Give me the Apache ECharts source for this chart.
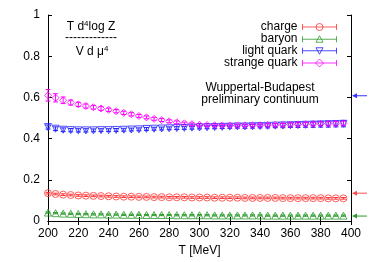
<!DOCTYPE html>
<html>
<head>
<meta charset="utf-8">
<script src="https://cdn.jsdelivr.net/npm/echarts@6/dist/echarts.min.js"></script>
<style>
  html, body { margin: 0; padding: 0; background: #fff; }
  #chart { width: 374px; height: 262px; }
</style>
</head>
<body>
<div id="chart"></div>
<script>
// temperature points (MeV)
const temps = [200, 205, 210, 215, 220, 225, 230, 235, 240, 245,
  250, 255, 260, 265, 270, 275, 280, 285, 290, 295,
  300, 305, 310, 315, 320, 325, 330, 335, 340, 345,
  350, 355, 360, 365, 370, 375, 380, 385, 390, 395]

const charge = [0.135, 0.131, 0.128, 0.126, 0.124, 0.123, 0.122, 0.121, 0.120, 0.119,
  0.118, 0.118, 0.117, 0.117, 0.116, 0.116, 0.115, 0.115, 0.115, 0.114,
  0.114, 0.114, 0.113, 0.113, 0.113, 0.113, 0.112, 0.112, 0.112, 0.112,
  0.112, 0.111, 0.111, 0.111, 0.111, 0.111, 0.111, 0.110, 0.110, 0.110]
const chargeErr = [0.004, 0.004, 0.004, 0.004, 0.004, 0.004, 0.004, 0.004, 0.004, 0.004,
  0.004, 0.004, 0.004, 0.004, 0.004, 0.004, 0.004, 0.004, 0.004, 0.004,
  0.004, 0.004, 0.004, 0.004, 0.004, 0.004, 0.004, 0.004, 0.004, 0.004,
  0.004, 0.004, 0.004, 0.004, 0.004, 0.004, 0.004, 0.004, 0.004, 0.004]

const baryon = [0.041, 0.038, 0.036, 0.035, 0.034, 0.033, 0.032, 0.032, 0.031, 0.031,
  0.030, 0.030, 0.030, 0.029, 0.029, 0.029, 0.029, 0.028, 0.028, 0.028,
  0.028, 0.028, 0.027, 0.027, 0.027, 0.027, 0.027, 0.027, 0.027, 0.026,
  0.026, 0.026, 0.026, 0.026, 0.026, 0.026, 0.026, 0.026, 0.026, 0.026]
const baryonErr = [0.003, 0.003, 0.003, 0.003, 0.003, 0.003, 0.003, 0.003, 0.003, 0.003,
  0.003, 0.003, 0.003, 0.003, 0.003, 0.003, 0.003, 0.003, 0.003, 0.003,
  0.003, 0.003, 0.003, 0.003, 0.003, 0.003, 0.003, 0.003, 0.003, 0.003,
  0.003, 0.003, 0.003, 0.003, 0.003, 0.003, 0.003, 0.003, 0.003, 0.003]

const light = [0.456, 0.448, 0.443, 0.441, 0.440, 0.440, 0.440, 0.441, 0.441, 0.442,
  0.443, 0.444, 0.445, 0.447, 0.448, 0.449, 0.450, 0.451, 0.452, 0.453,
  0.454, 0.455, 0.456, 0.457, 0.458, 0.459, 0.459, 0.460, 0.461, 0.462,
  0.463, 0.464, 0.465, 0.466, 0.467, 0.468, 0.469, 0.470, 0.471, 0.472]
const lightErr = [0.010, 0.009, 0.009, 0.008, 0.008, 0.008, 0.007, 0.007, 0.007, 0.007,
  0.007, 0.007, 0.007, 0.007, 0.007, 0.007, 0.007, 0.007, 0.007, 0.007,
  0.007, 0.007, 0.008, 0.008, 0.008, 0.008, 0.009, 0.009, 0.009, 0.010,
  0.010, 0.011, 0.011, 0.012, 0.012, 0.013, 0.013, 0.014, 0.014, 0.015]

const strange = [0.610, 0.598, 0.586, 0.575, 0.566, 0.558, 0.552, 0.546, 0.540, 0.533,
  0.525, 0.518, 0.510, 0.503, 0.496, 0.490, 0.484, 0.479, 0.474, 0.470,
  0.467, 0.466, 0.465, 0.464, 0.464, 0.464, 0.464, 0.465, 0.465, 0.466,
  0.466, 0.467, 0.468, 0.469, 0.470, 0.471, 0.472, 0.472, 0.473, 0.474]
const strangeErr = [0.028, 0.020, 0.016, 0.012, 0.010, 0.010, 0.009, 0.009, 0.008, 0.008,
  0.008, 0.008, 0.007, 0.007, 0.007, 0.007, 0.007, 0.007, 0.006, 0.006,
  0.006, 0.006, 0.006, 0.006, 0.006, 0.006, 0.006, 0.006, 0.006, 0.007,
  0.007, 0.007, 0.008, 0.008, 0.008, 0.009, 0.009, 0.010, 0.010, 0.011]

// free-gas limits marked by the arrows on the right edge
const limits = [
  { value: 0.608, color: '#3333ff' },
  { value: 0.135, color: '#ff4d4d' },
  { value: 0.024, color: '#2e9b2e' }
]

const xTicks = [200, 400, 20]
const yTicks = [0, 1, 0.2]

const font = 'Liberation Sans, Arial, sans-serif'

// legend samples: errorbar line with end caps and the point symbol in the middle
const capLine = 'path://M0,4 L34,4 M0,1 L0,7 M34,1 L34,7 '
const icons = {
  circle: capLine + 'M20.5,4 A3.5,3.5 0 1 1 13.5,4 A3.5,3.5 0 1 1 20.5,4 Z',
  triangle: capLine + 'M17,0.5 L20.5,7 L13.5,7 Z',
  down: capLine + 'M13.5,1 L20.5,1 L17,7.5 Z',
  diamond: capLine + 'M17,0 L21,4 L17,8 L13,4 Z'
}

const sets = [
  { name: 'charge', values: charge, err: chargeErr, color: '#ff3333', symbol: 'circle', icon: icons.circle },
  { name: 'baryon', values: baryon, err: baryonErr, color: '#2e9b2e', symbol: 'triangle', icon: icons.triangle },
  { name: 'light quark', values: light, err: lightErr, color: '#2222ff', symbol: 'path://M0,0 L10,0 L5,9 Z', icon: icons.down },
  { name: 'strange quark', values: strange, err: strangeErr, color: '#ff00ff', symbol: 'diamond', icon: icons.diamond }
]

function errorBars(params, api) {
  const x = api.value(0)
  const top = api.coord([x, api.value(2)])
  const bot = api.coord([x, api.value(1)])
  const stroke = { stroke: api.visual('color'), lineWidth: 1 }
  const w = 2.5
  return {
    type: 'group',
    children: [
      { type: 'line', shape: { x1: top[0], y1: top[1], x2: bot[0], y2: bot[1] }, style: stroke },
      { type: 'line', shape: { x1: top[0] - w, y1: top[1], x2: top[0] + w, y2: top[1] }, style: stroke },
      { type: 'line', shape: { x1: bot[0] - w, y1: bot[1], x2: bot[0] + w, y2: bot[1] }, style: stroke }
    ]
  }
}

const series = []
sets.forEach(s => {
  series.push({
    name: s.name,
    type: 'scatter',
    symbol: s.symbol,
    symbolSize: 7,
    itemStyle: { color: 'rgba(0,0,0,0)', borderColor: s.color, borderWidth: 1 },
    data: temps.map((t, i) => [t, s.values[i]]),
    animation: false
  })
  series.push({
    name: s.name,
    type: 'custom',
    renderItem: errorBars,
    itemStyle: { color: s.color },
    data: temps.map((t, i) => [t, s.values[i] - s.err[i], s.values[i] + s.err[i]]),
    silent: true,
    animation: false
  })
})

const axisBase = {
  type: 'value',
  axisLine: { show: true, lineStyle: { color: '#000', width: 1 } },
  axisTick: { show: true, inside: true, length: 4, lineStyle: { color: '#000' } },
  splitLine: { show: false },
  axisLabel: { color: '#000', fontFamily: font, fontSize: 12 }
}

const chart = echarts.init(document.getElementById('chart'))
chart.setOption({
  backgroundColor: '#fff',
  animation: false,
  grid: { left: 48, right: 23, top: 15, bottom: 40 },
  xAxis: [
    Object.assign({}, axisBase, {
      min: xTicks[0], max: xTicks[1], interval: xTicks[2],
      name: 'T [MeV]', nameLocation: 'middle', nameGap: 24,
      nameTextStyle: { color: '#000', fontFamily: font, fontSize: 12 },
      axisLabel: Object.assign({}, axisBase.axisLabel, { margin: 7 })
    }),
    Object.assign({}, axisBase, {
      position: 'top', min: xTicks[0], max: xTicks[1], interval: xTicks[2],
      axisLabel: { show: false }
    })
  ],
  yAxis: [
    Object.assign({}, axisBase, {
      min: yTicks[0], max: yTicks[1], interval: yTicks[2],
      axisLabel: Object.assign({}, axisBase.axisLabel, { margin: 8 })
    }),
    Object.assign({}, axisBase, {
      position: 'right', min: yTicks[0], max: yTicks[1], interval: yTicks[2],
      axisLabel: { show: false }
    })
  ],
  legend: {
    orient: 'vertical',
    right: 37,
    top: 21,
    padding: 0,
    align: 'right',
    itemWidth: 34,
    itemHeight: 8,
    itemGap: 0,
    selectedMode: false,
    textStyle: { color: '#000', fontFamily: font, fontSize: 12, lineHeight: 12 },
    data: sets.map(s => ({
      name: s.name,
      icon: s.icon,
      itemStyle: { color: 'rgba(0,0,0,0)', borderColor: s.color, borderWidth: 1 }
    }))
  },
  series: series
})

// label texts and the limit arrows, placed after the axes exist
const textStyle = { fill: '#000', font: '12px ' + font, align: 'center', verticalAlign: 'middle' }
const supRich = {
  a: { fontSize: 12, fontFamily: font },
  s: { fontSize: 8, fontFamily: font, verticalAlign: 'top', padding: [0, 0, 6, 0] }
}
const graphics = [
  { type: 'text', x: 91, y: 27, style: Object.assign({}, textStyle, { text: '{a|T d}{s|4}{a|log Z}', rich: supRich }) },
  { type: 'text', x: 91, y: 38, style: Object.assign({}, textStyle, { text: '-------------' }) },
  { type: 'text', x: 92, y: 52, style: Object.assign({}, textStyle, { text: '{a|V d μ}{s|4}', rich: supRich }) },
  { type: 'text', x: 260, y: 88, style: Object.assign({}, textStyle, { text: 'Wuppertal-Budapest' }) },
  { type: 'text', x: 260, y: 100, style: Object.assign({}, textStyle, { text: 'preliminary continuum' }) }
]
limits.forEach(l => {
  const p = chart.convertToPixel({ gridIndex: 0 }, [xTicks[1], l.value])
  const x0 = p[0] + 1
  graphics.push({ type: 'line', shape: { x1: x0 + 3, y1: p[1], x2: x0 + 15, y2: p[1] }, style: { stroke: l.color, lineWidth: 1 } })
  graphics.push({ type: 'polygon', shape: { points: [[x0, p[1]], [x0 + 5, p[1] - 2.5], [x0 + 5, p[1] + 2.5]] }, style: { fill: l.color } })
})
chart.setOption({ graphic: graphics })
</script>
</body>
</html>
